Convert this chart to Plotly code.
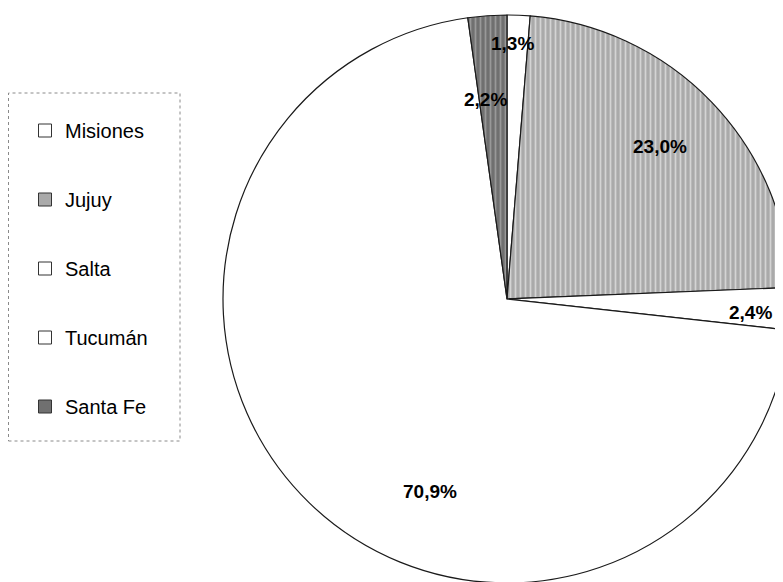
import math

import plotly.graph_objects as go

# data (per cent of total)
LABELS = ["Misiones", "Jujuy", "Salta", "Tucumán", "Santa Fe"]
SHARES = [1.3, 23.0, 2.4, 70.9, 2.2]

# styling per slice
FILL = ["#ffffff", "#aaaaaa", "#ffffff", "#ffffff", "#707070"]
STRIPE = ["#ffffff", "#d4d4d4", "#ffffff", "#ffffff", "#999999"]
PATTERN = ["", "|", "", "", "|"]

# label placement (fraction of radius, nudge in degrees from slice middle)
LABEL_R = [0.90, 0.76, 0.857, 0.73, 0.705]
LABEL_NUDGE = [-1.2, -1.0, 1.1, -22.5, -2.3]

FONT = "Liberation Sans, Arial, sans-serif"
W, H = 783, 582
OFF = 8  # page body margin shifts the figure by this many px

# pie geometry in figure pixels
PIE_L, PIE_R = 215, 783
PIE_T, PIE_B = 7, 575
CX, CY = (PIE_L + PIE_R) / 2, (PIE_T + PIE_B) / 2
RAD = (PIE_R - PIE_L) / 2

fig = go.Figure()

fig.add_trace(
    go.Pie(
        labels=LABELS,
        values=SHARES,
        sort=False,
        direction="clockwise",
        rotation=0,
        marker=dict(
            colors=FILL,
            line=dict(color="#1a1a1a", width=1.2),
            pattern=dict(
                shape=PATTERN,
                bgcolor=FILL,
                fgcolor=STRIPE,
                size=5,
                solidity=0.35,
            ),
        ),
        textinfo="none",
        domain=dict(x=[PIE_L / W, PIE_R / W], y=[1 - PIE_B / H, 1 - PIE_T / H]),
        showlegend=False,
        hoverinfo="label+value",
    )
)

# percentage labels, placed from each slice's angle
total = sum(SHARES)
start = 0.0
annotations = []
for v, rf, nudge in zip(SHARES, LABEL_R, LABEL_NUDGE):
    mid = (start + v / 2) / total * 360 + nudge
    start += v
    a = math.radians(mid)
    px = CX + RAD * rf * math.sin(a)
    py = CY - RAD * rf * math.cos(a)
    annotations.append(
        dict(
            x=px / W,
            y=1 - py / H,
            xref="paper",
            yref="paper",
            xanchor="center",
            yanchor="middle",
            text=f"{v:.1f}%".replace(".", ","),
            showarrow=False,
            font=dict(family=FONT, size=19, color="#000000", weight="bold"),
        )
    )

# legend entries (pie legend spacing can't be widened, so use one group per entry)
for name, col in zip(LABELS, FILL):
    fig.add_trace(
        go.Scatter(
            x=[None],
            y=[None],
            mode="markers",
            name=name,
            legendgroup=name,
            marker=dict(symbol="square", size=13, color=col,
                        line=dict(color="#333333", width=1)),
        )
    )

fig.update_layout(
    width=W,
    height=H,
    margin=dict(l=0, r=0, t=0, b=0),
    paper_bgcolor="#ffffff",
    plot_bgcolor="#ffffff",
    font=dict(family=FONT, color="#000000"),
    xaxis=dict(visible=False),
    yaxis=dict(visible=False),
    annotations=annotations,
    legend=dict(
        x=17 / W,
        y=1 - 103 / H,
        xanchor="left",
        yanchor="top",
        font=dict(family=FONT, size=20, color="#000000"),
        tracegroupgap=40,
        itemwidth=30,
        bgcolor="rgba(0,0,0,0)",
    ),
    shapes=[
        dict(
            type="rect",
            xref="paper",
            yref="paper",
            x0=(8 - OFF + 0.5) / W,
            x1=(180 - OFF) / W,
            y0=1 - (441 - OFF) / H,
            y1=1 - (93 - OFF) / H,
            line=dict(color="#8a8a8a", width=1, dash="dot"),
            fillcolor="rgba(0,0,0,0)",
            layer="below",
        )
    ],
)

fig.write_html("out.html")
